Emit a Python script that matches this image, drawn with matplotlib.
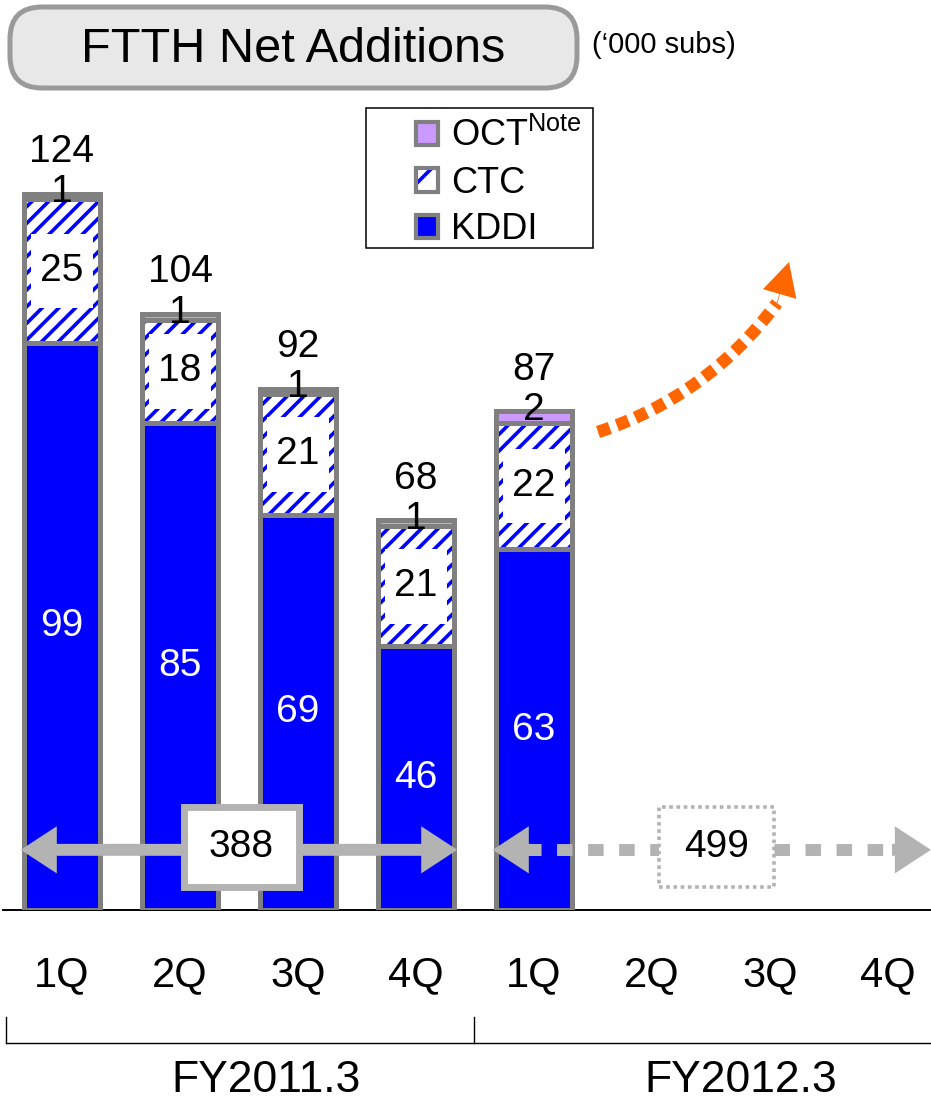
import matplotlib
matplotlib.use("Agg")
import matplotlib.pyplot as plt
from matplotlib.patches import Patch, Rectangle, FancyBboxPatch
from matplotlib.legend_handler import HandlerTuple
from matplotlib.transforms import IdentityTransform
import numpy as np

plt.rcParams['font.family'] = ['Liberation Sans', 'DejaVu Sans']
plt.rcParams['mathtext.fontset'] = 'custom'
plt.rcParams['mathtext.rm'] = 'Liberation Sans'
plt.rcParams['hatch.linewidth'] = 2.6

# data ('000 subs)
quarters = ["1Q", "2Q", "3Q", "4Q", "1Q", "2Q", "3Q", "4Q"]
years = ["FY2011.3", "FY2012.3"]
kddi = np.array([99, 85, 69, 46, 63])
ctc = np.array([25, 18, 21, 21, 22])
oct_ = np.array([1, 1, 1, 1, 2])
totals = [124, 104, 92, 68, 87]
fy_totals = [388, 499]

BLUE = "#0000ff"
GRAY = "#808080"
PURPLE = "#cc99ff"
LGRAY = "#b3b3b3"
ORANGE = "#ff6600"

W, H = 931, 1100
fig = plt.figure(figsize=(W / 100, H / 100), dpi=100)
ax = fig.add_axes([3 / W, 190 / H, 928 / W, 910 / H])
ax.set_xlim(-0.5, -0.5 + 928 / 118)
ax.set_ylim(0, 910 / 5.73)
ax.axis("off")

def fp(x, y):
    # image pixel (from top) -> figure pixels
    return (x, H - y)

x = np.arange(len(kddi))
bw = 0.64
lw = 3.6

ax.bar(x, kddi, bw, color=BLUE, edgecolor=GRAY, lw=lw, zorder=2)
ax.bar(x, ctc, bw, bottom=kddi, facecolor="white", edgecolor=BLUE, hatch="//", lw=0, zorder=2)
ax.bar(x, ctc, bw, bottom=kddi, fill=False, edgecolor=GRAY, lw=lw, zorder=3)
ax.bar(x, oct_, bw, bottom=kddi + ctc, color=PURPLE, edgecolor=GRAY, lw=lw, zorder=3)

for i in x:
    ax.text(i, kddi[i] / 2, str(kddi[i]), color="white", fontsize=28,
            ha="center", va="center", zorder=5)
    yc = kddi[i] + ctc[i] / 2
    ax.add_patch(Rectangle((i - 0.26, yc - 6.5), 0.52, 13, facecolor="white",
                           edgecolor="none", zorder=4))
    ax.text(i, yc, str(ctc[i]), fontsize=28, ha="center", va="center", zorder=5)
    top = kddi[i] + ctc[i] + oct_[i]
    ax.annotate(str(oct_[i]), (i, top), xytext=(0, 1), textcoords="offset points",
                fontsize=28, ha="center", va="center", zorder=6)
    ax.annotate(str(totals[i]), (i, top), xytext=(0, 30), textcoords="offset points",
                fontsize=28, ha="center", va="center", zorder=6)

# baseline
ax.plot([-0.5, 7.364], [0, 0], color="black", lw=1.4, clip_on=False, zorder=1)

# FY total arrows
ya = 10.5
xl1, xr1 = 0 - bw / 2 - 0.03, 3 + bw / 2 + 0.03
xm1 = 1.52
simple = "simple,head_length=26,head_width=34,tail_width=8.6"
for tip in (xl1, xr1):
    ax.annotate("", xy=(tip, ya), xytext=(xm1, ya),
                arrowprops=dict(arrowstyle=simple, mutation_scale=1, color=LGRAY,
                                lw=0, shrinkA=0, shrinkB=0), zorder=6)
ax.add_patch(Rectangle((xm1 - 0.49, ya + 0.5 - 6.9), 0.98, 13.8, facecolor="white",
                       edgecolor=LGRAY, lw=5, zorder=7))
ax.text(xm1, ya + 0.5, str(fy_totals[0]), fontsize=28, ha="center", va="center", zorder=8)

xl2, xr2 = 4 - bw / 2 - 0.03, 7.364
xm2 = 5.547
ax.plot([xl2 + 0.28, xr2 - 0.3], [ya, ya], color=LGRAY, lw=8.6,
        linestyle=(0, (1.3, 1.3)), clip_on=False, zorder=6)
for tip, base in ((xl2, xl2 + 0.33), (xr2, xr2 - 0.33)):
    ax.annotate("", xy=(tip, ya), xytext=(base, ya),
                arrowprops=dict(arrowstyle=simple, mutation_scale=1, color=LGRAY,
                                lw=0, shrinkA=0, shrinkB=0), zorder=6,
                annotation_clip=False)
ax.add_patch(Rectangle((xm2 - 0.49, ya + 0.5 - 6.9), 0.98, 13.8, facecolor="white",
                       edgecolor=LGRAY, lw=2.6, linestyle=(0, (1, 1)), zorder=7))
ax.text(xm2, ya + 0.5, str(fy_totals[1]), fontsize=28, ha="center", va="center", zorder=8)

# quarter labels and year brackets
for i, q in enumerate(quarters):
    ax.text(i, -11.3, q, fontsize=30, ha="center", va="center", clip_on=False)
ax.plot([-0.475, 7.364], [-23.2, -23.2], color="black", lw=1, clip_on=False)
for xb in (-0.475, 3.49):
    ax.plot([xb, xb], [-18.7, -23.2], color="black", lw=1, clip_on=False)
ax.text(1.73, -29.7, years[0], fontsize=32, ha="center", va="center", clip_on=False)
ax.text(5.75, -29.7, years[1], fontsize=32, ha="center", va="center", clip_on=False)

# orange growth arrow
start, end = fp(598, 432), fp(777, 303)
fig.add_artist(plt.Annotation("", xy=end, xytext=start, xycoords="figure pixels",
               arrowprops=dict(arrowstyle="-", connectionstyle="arc3,rad=0.16",
                               color=ORANGE, lw=9, linestyle=(0, (1.0, 0.6)),
                               capstyle="butt", shrinkA=0, shrinkB=0)))
fig.add_artist(plt.Annotation("", xy=fp(789, 262), xytext=fp(777, 303), xycoords="figure pixels",
               arrowprops=dict(arrowstyle="simple,head_length=24,head_width=25,tail_width=0.5",
                               mutation_scale=1, color=ORANGE, lw=0, shrinkA=0, shrinkB=0)))

# title box
tb = FancyBboxPatch((10, H - 88), 567, 81, boxstyle="round,pad=0,rounding_size=32",
                    facecolor="#e8e8e8", edgecolor="#9a9a9a", lw=3.6,
                    transform=IdentityTransform())
fig.add_artist(tb)
fig.text(293 / W, 1 - 49 / H, "FTTH Net Additions", fontsize=35, ha="center", va="center")
fig.text(592 / W, 1 - 45 / H, "(\u2018000 subs)", fontsize=21, ha="left", va="center")

# legend
fig.add_artist(Rectangle((366, H - 248), 227, 140, facecolor="white", edgecolor="black",
                         lw=1.1, transform=IdentityTransform()))
h_oct = Patch(facecolor=PURPLE, edgecolor=GRAY, lw=3)
h_ctc = (Patch(facecolor="white", edgecolor=BLUE, hatch="/", lw=0),
         Patch(fill=False, edgecolor=GRAY, lw=3))
h_kddi = Patch(facecolor=BLUE, edgecolor=GRAY, lw=3)
fig.legend([h_oct, h_ctc, h_kddi], [r"OCT$^{\mathrm{Note}}$", "CTC", "KDDI"],
           handler_map={tuple: HandlerTuple(ndivide=1)},
           loc="upper left", bbox_to_anchor=(416 / W, 1 - 118 / H), frameon=False,
           fontsize=26, handlelength=0.62, handleheight=0.62, handletextpad=0.35,
           labelspacing=0.32, borderpad=0, borderaxespad=0)

fig.savefig("out.png", dpi=100)
